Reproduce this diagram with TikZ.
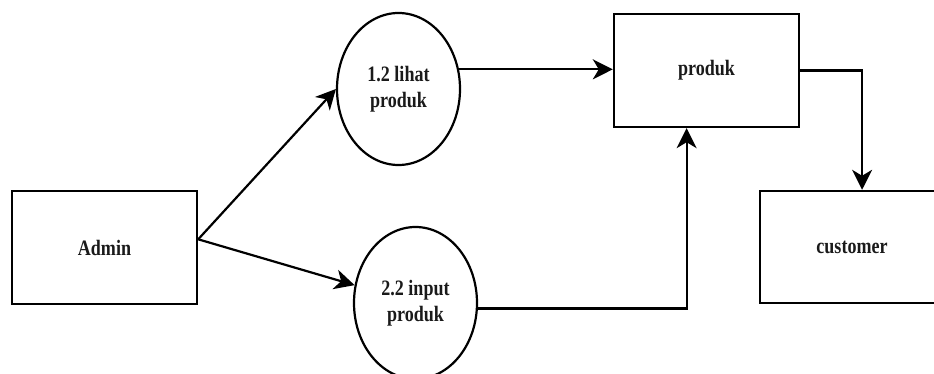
\documentclass[tikz,border=0pt]{standalone}
\usepackage{fontspec}
\setmainfont{Liberation Serif}[FakeStretch=0.82]
\usetikzlibrary{shapes.geometric, arrows.meta}
\definecolor{lineBlack}{HTML}{000000}
\definecolor{textGrey}{HTML}{1A1A1A}

\begin{document}
\begin{tikzpicture}[x=1pt, y=1pt,
    entityBox/.style={draw=lineBlack, line width=2.4pt, rectangle, minimum width=185pt, minimum height=113pt, inner sep=0pt},
    procBubble/.style={draw=lineBlack, line width=2.2pt, ellipse, minimum width=123pt, minimum height=152pt, inner sep=0pt, align=center},
    flowArrow/.style={draw=lineBlack, line width=2.2pt, -{Stealth[length=20pt, width=20pt, inset=6pt]}},
    every node/.style={font=\fontsize{22}{26}\selectfont\bfseries, text=textGrey}]
                \useasboundingbox (0,0) rectangle (934,-374);
                \node[entityBox] (admin) at (104.5,-247.5) {Admin};
                \node[procBubble] (lihat) at (398.5,-89) {1.2 lihat\\produk};
                \node[procBubble] (input) at (415.5,-303) {2.2 input\\produk};
                \node[entityBox] (produk) at (706.5,-70.5) {produk};
                \node[entityBox, minimum width=184pt, minimum height=112pt] (customer) at (852,-247) {customer};
                \draw[flowArrow] (admin.5) -- (lihat.west);
                \draw[flowArrow] (admin.5) -- (input);
                \draw[flowArrow] (lihat.18) -- (lihat.18 -| produk.west);
                \draw[flowArrow] (input.-5) -| (produk.251);
                \draw[flowArrow] (produk.east) -| (customer.80);
            \end{tikzpicture}
\end{document}
